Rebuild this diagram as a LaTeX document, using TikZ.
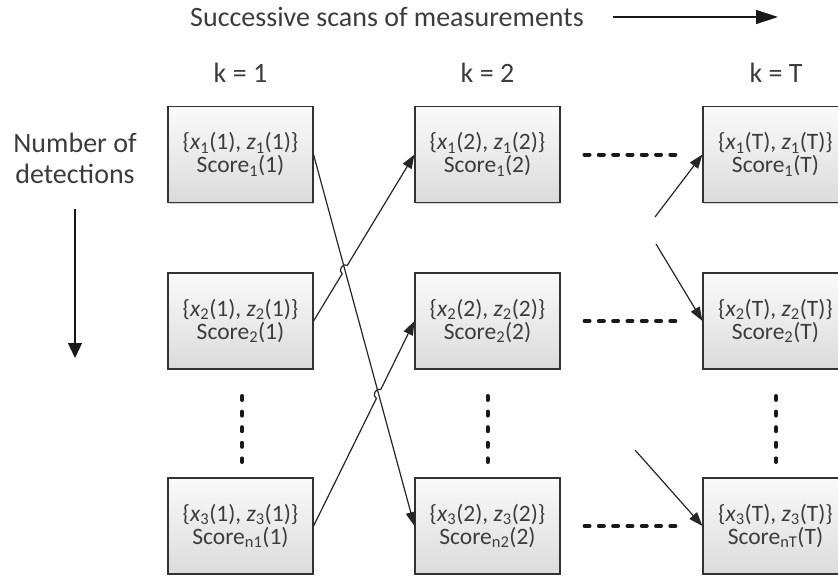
\documentclass[tikz,border=0pt]{standalone}
\usepackage{fontspec}
\setmainfont{Carlito}
\usetikzlibrary{arrows.meta,shadows,calc}
\definecolor{txt}{RGB}{60,60,60}
\newcommand\boxtxt[3]{\{\textit{x}\textsubscript{#1}(#2), \textit{z}\textsubscript{#1}(#2)\}\\Score\textsubscript{#3}(#2)}
\begin{document}
\begin{tikzpicture}[x=1pt,y=-1pt,
  detbox/.style={draw=black!80, line width=1.1pt, top color=gray!4, bottom color=gray!28,
    minimum width=145pt, minimum height=96pt, inner sep=0pt, align=center, text=txt,
    font=\fontsize{23.5}{23}\selectfont,
    drop shadow={shadow xshift=1.2pt, shadow yshift=-1.2pt, opacity=0.35}},
  lbl/.style={text=txt, font=\fontsize{28}{31}\selectfont, inner sep=0pt},
  link/.style={draw=black!85, line width=1.2pt, -{Triangle[length=14pt,width=10pt]}},
  dashrow/.style={draw=black!90, line width=4pt, line cap=round, dash pattern=on 5pt off 9.3pt},
  dotcol/.style={draw=black!90, line width=4pt, line cap=round, dash pattern=on 4pt off 11.6pt},
]
\useasboundingbox (0,0) rectangle (838,581);
\clip (0,0) rectangle (838,581);

% header
\node[lbl, anchor=base west] (title) at (190,26) {Successive scans of measurements};
\coordinate (ta) at (613,17);
\coordinate (tb) at (778,17);
\draw[draw=black!90, line width=1.3pt, -{Triangle[length=22pt,width=14pt]}] (ta) -- (tb);

\node[lbl, anchor=base] (k1) at (240.5,82) {k = 1};
\node[lbl, anchor=base] (k2) at (487.5,82) {k = 2};
\node[lbl, anchor=base] (kT) at (776,82) {k = T};

\node[lbl, anchor=base, align=center] (nd) at (75,183) {Number of\\detections};
\coordinate (da) at (75,209);
\coordinate (db) at (75,358);
\draw[draw=black!90, line width=1.3pt, -{Triangle[length=15pt,width=14pt]}] (da) -- (db);

% boxes
\node[detbox] (b11) at (240.5,154.5) {\boxtxt{1}{1}{1}};
\node[detbox] (b12) at (240.5,321) {\boxtxt{2}{1}{2}};
\node[detbox] (b13) at (240.5,526) {\boxtxt{3}{1}{n1}};
\node[detbox] (b21) at (487.5,154.5) {\boxtxt{1}{2}{1}};
\node[detbox] (b22) at (487.5,321) {\boxtxt{2}{2}{2}};
\node[detbox] (b23) at (487.5,526) {\boxtxt{3}{2}{n2}};
\node[detbox] (b31) at (775.5,154.5) {\boxtxt{1}{T}{1}};
\node[detbox] (b32) at (775.5,321) {\boxtxt{2}{T}{2}};
\node[detbox] (b33) at (775.5,526) {\boxtxt{3}{T}{nT}};

% vertical dots
\draw[dotcol] (242,396) -- (242,462);
\draw[dotcol] (487.5,396) -- (487.5,462);
\draw[dotcol] (776,396) -- (776,462);

% horizontal dashes
\draw[dashrow] ($(b21.east)+(24,0)$) -- ($(b31.west)+(-22,0)$);
\draw[dashrow] ($(b22.east)+(24,0)$) -- ($(b32.west)+(-22,0)$);
\draw[dashrow] ($(b23.east)+(24,0)$) -- ($(b33.west)+(-22,0)$);

% crossing connectors
\draw[link] (b11.east) -- (b23.west);
\coordinate (h1) at (intersection of b11.east--b23.west and b12.east--b21.west);
\coordinate (h2) at (intersection of b11.east--b23.west and b13.east--b22.west);
\draw[link] (b12.east) -- ($(h1)!5pt!(b12.east)$) to[bend left=90, looseness=1.4] ($(h1)!5pt!(b21.west)$) -- (b21.west);
\draw[link] (b13.east) -- ($(h2)!5pt!(b13.east)$) to[bend left=90, looseness=1.4] ($(h2)!5pt!(b22.west)$) -- (b22.west);

% arrows into last column
\coordinate (r1) at (655,217);
\coordinate (r2) at (656,244);
\coordinate (r3) at (635,450);
\draw[link] (r1) -- (b31.west);
\draw[link] (r2) -- (b32.west);
\draw[link] (r3) -- (b33.west);
\end{tikzpicture}
\end{document}
